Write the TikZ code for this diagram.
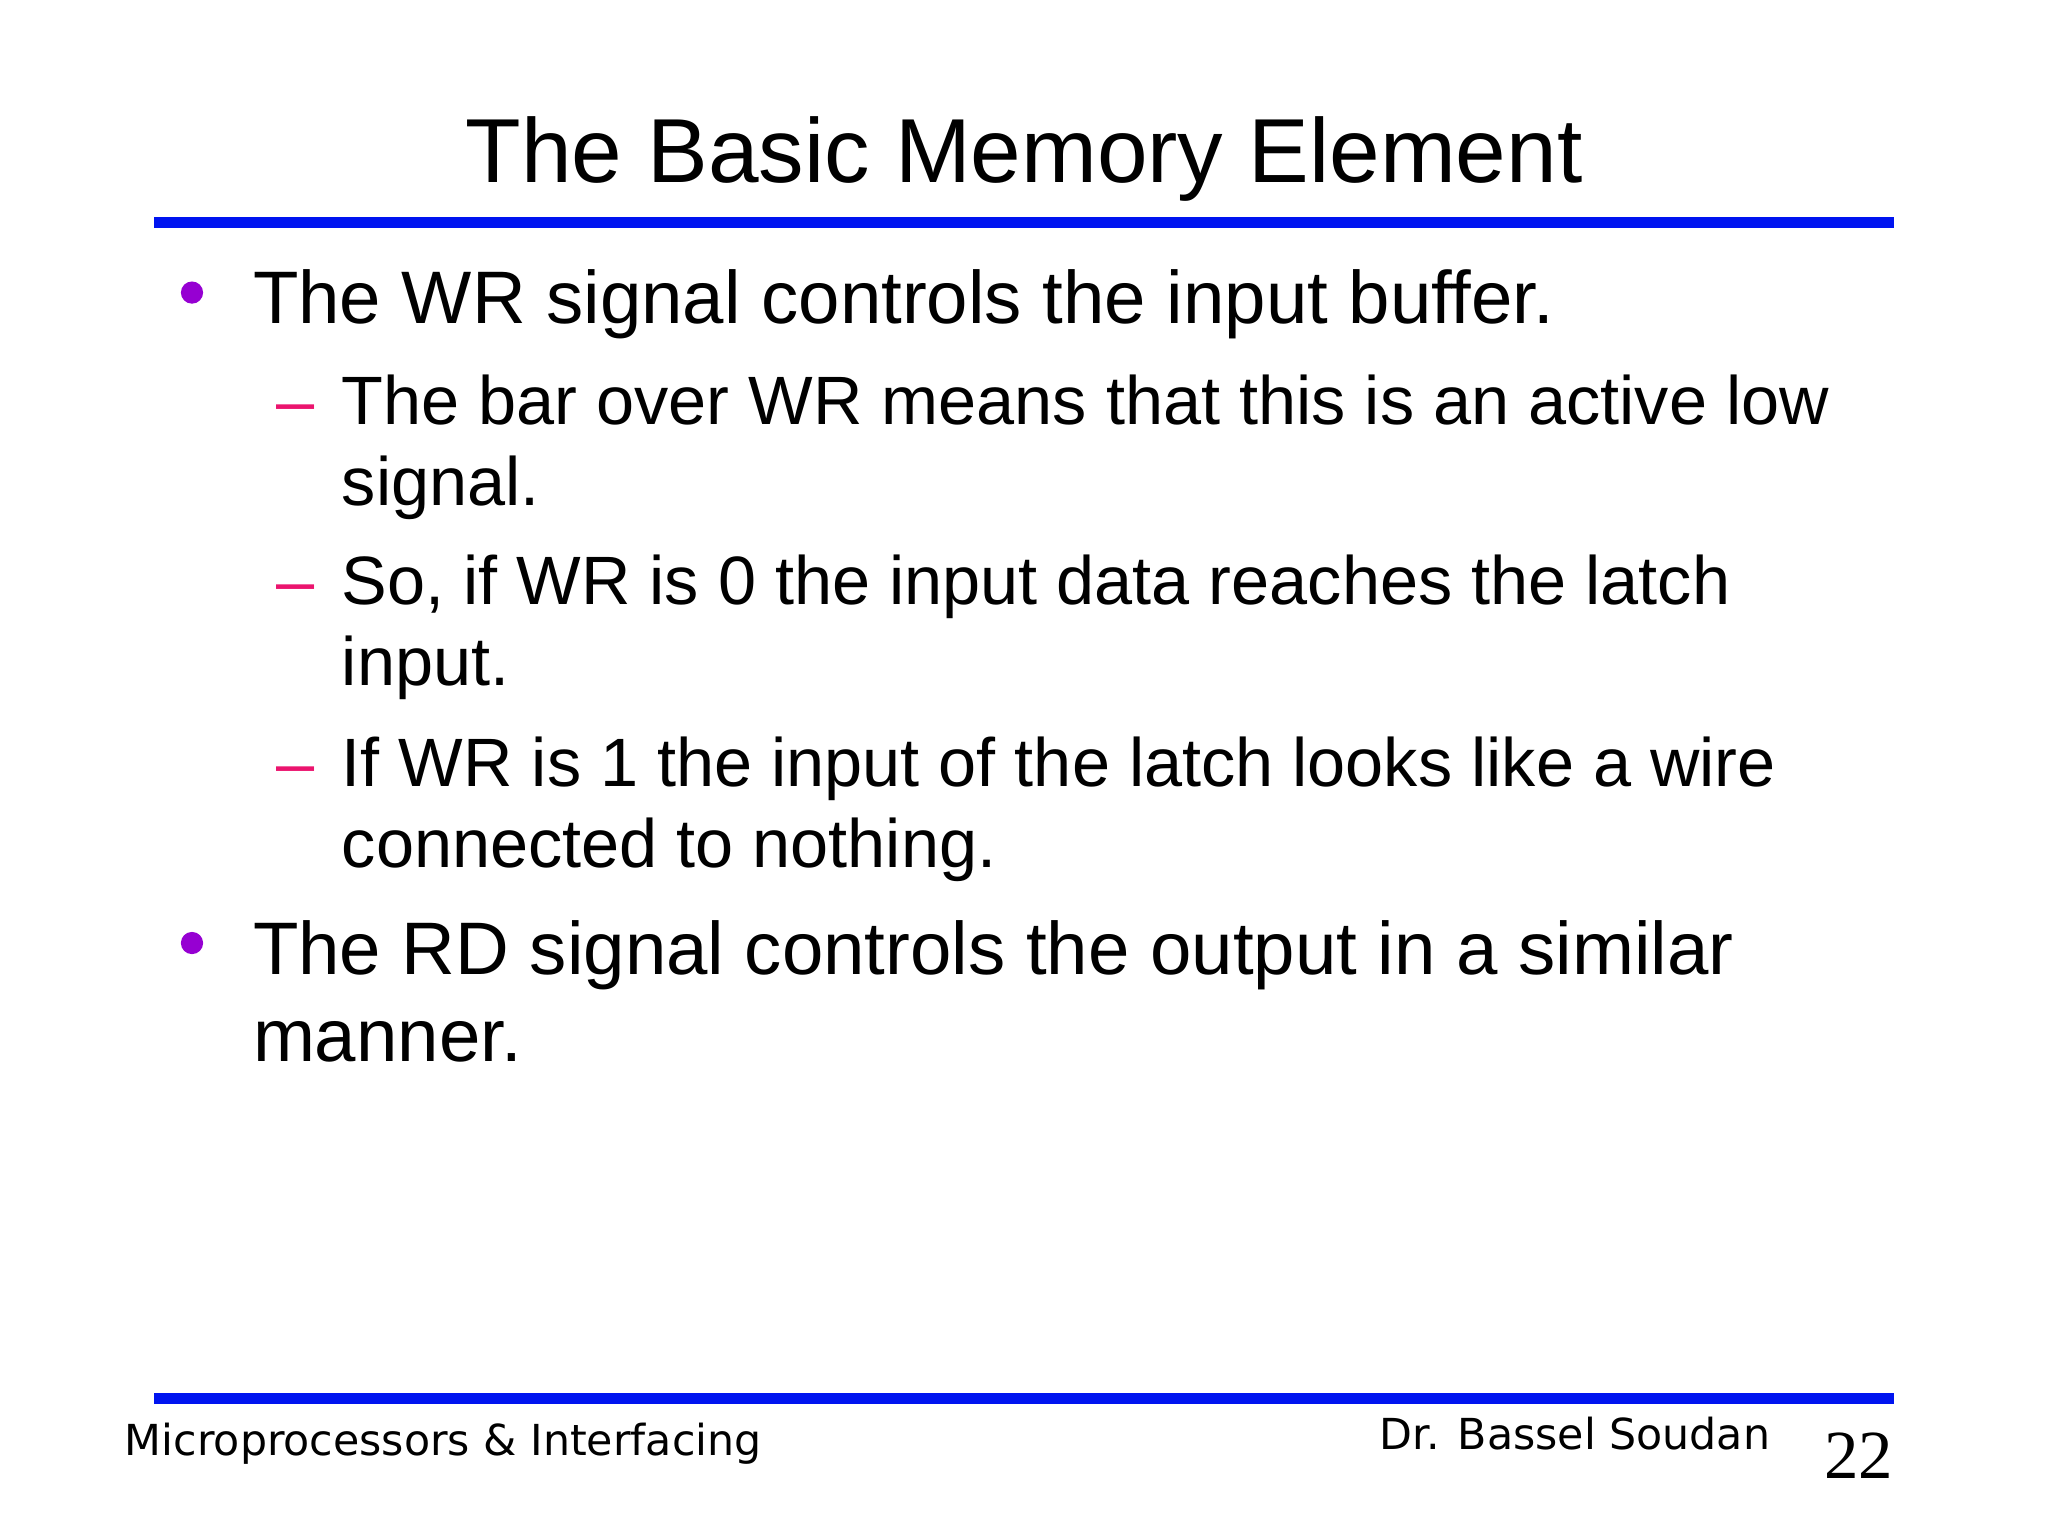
\documentclass[tikz,border=0pt]{standalone}
\usepackage{fontspec}
\setmainfont{Liberation Sans}
\newfontfamily\footfont{DejaVu Sans}
\newfontfamily\numfont{Liberation Serif}
\usetikzlibrary{positioning}
\definecolor{barblue}{RGB}{0,20,240}
\definecolor{dotpurple}{RGB}{150,0,210}
\definecolor{dashpink}{RGB}{235,20,110}

\begin{document}
\begin{tikzpicture}[x=0.01cm, y=-0.01cm, every node/.style={inner sep=0pt},
	title/.style={anchor=base, font=\fontsize{19.8}{24}\selectfont},
	lvlone/.style={anchor=base west, font=\fontsize{16.2}{20}\selectfont},
	lvltwo/.style={anchor=base west, font=\fontsize{14.9}{18}\selectfont},
	dot/.style={circle, fill=dotpurple, inner sep=0pt, minimum size=0.17cm},
	subdash/.style={anchor=base west, text=dashpink, font=\fontsize{14.9}{18}\selectfont},
	foot/.style={anchor=base west, font=\footfont\fontsize{9.3}{12}\selectfont}]
	\fill[white] (0,0) rectangle (1568,1176); % Rand
	
	\node[title] (ttl) at (784,140) {The Basic Memory Element};
	\draw[barblue, line width=2.4pt] (118,170) -- (1450,170);
	
	% erster Punkt
	\node[dot] (d1) at (147,224) {};
	\node[lvlone] (p1) at (193,248) {The WR signal controls the input buffer.};
	\node[subdash] (s1) at (211,325) {--};
	\node[lvltwo] (t1) at (261,325) {The bar over WR means that this is an active low};
	\node[lvltwo] (t1b) at (261,387) {signal.};
	\node[subdash] (s2) at (211,463) {--};
	\node[lvltwo] (t2) at (261,463) {So, if WR is 0 the input data reaches the latch};
	\node[lvltwo] (t2b) at (261,525) {input.};
	\node[subdash] (s3) at (211,602) {--};
	\node[lvltwo] (t3) at (261,602) {If WR is 1 the input of the latch looks like a wire};
	\node[lvltwo] (t3b) at (261,664) {connected to nothing.};
	
	% zweiter Punkt
	\node[dot] (d2) at (147,722) {};
	\node[lvlone] (p2) at (193,746) {The RD signal controls the output in a similar};
	\node[lvlone] (p2b) at (193,813) {manner.};
	
	% Fusszeile
	\draw[barblue, line width=2.4pt] (118,1071) -- (1450,1071);
	\node[foot] (f1) at (95,1114) {Microprocessors \& Interfacing};
	\node[foot, anchor=base east] (f2) at (1356,1110) {Dr. Bassel Soudan};
	\node[anchor=base east, font=\numfont\fontsize{15}{18}\selectfont] (pg) at (1450,1132) {22};
\end{tikzpicture}
\end{document}
